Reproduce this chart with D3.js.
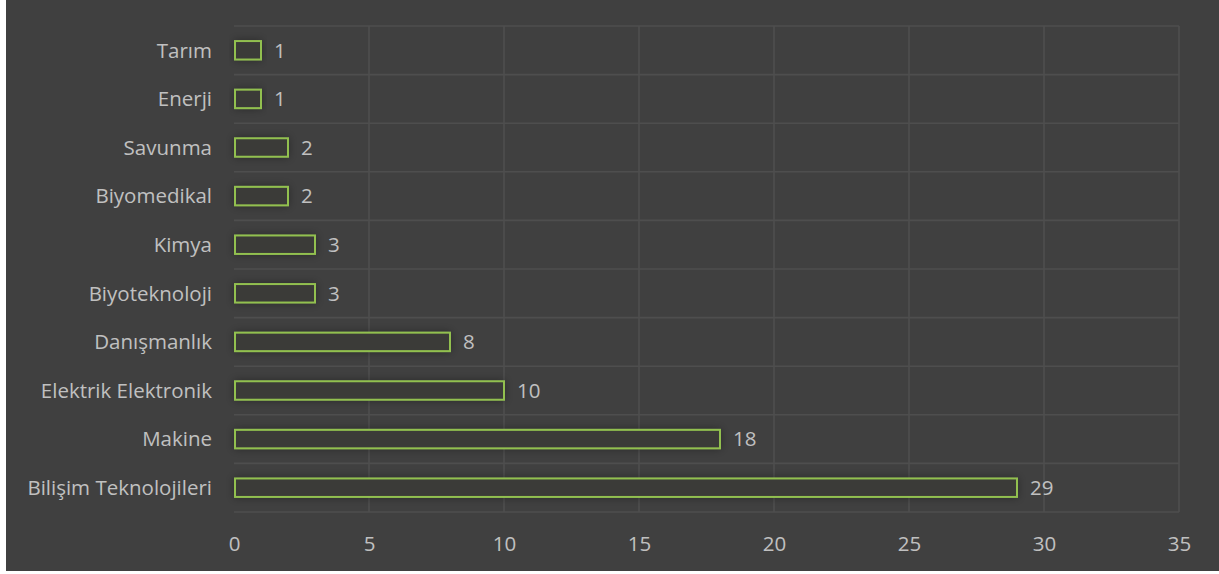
<!DOCTYPE html>
<html><head><meta charset="utf-8">
<script src="https://cdn.jsdelivr.net/npm/d3@7"></script>
<style>body{margin:0;background:#fff}svg{display:block}</style>
</head><body>
<script>
const categories = ["Tarım","Enerji","Savunma","Biyomedikal","Kimya","Biyoteknoloji","Danışmanlık","Elektrik Elektronik","Makine","Bilişim Teknolojileri"];
const values = [1,1,2,2,3,3,8,10,18,29];
const xTicks = [0,5,10,15,20,25,30,35];

const W=1219,H=574;
const svg=d3.select("body").append("svg").attr("width",W).attr("height",H);
const defs=svg.append("defs");
const f=defs.append("filter").attr("id","sh").attr("x","-20%").attr("y","-80%").attr("width","140%").attr("height","260%");
f.append("feDropShadow").attr("dx",0).attr("dy",0).attr("stdDeviation",4).attr("flood-color","#000").attr("flood-opacity",0.35);

svg.append("rect").attr("x",6).attr("y",0).attr("width",W-6).attr("height",571).attr("fill","#404040");

const x=d3.scaleLinear().domain([0,35]).range([234,1179]);
const y=d3.scaleBand().domain(categories).range([26,512]).paddingInner(0.62).paddingOuter(0.31);
const yb=d3.scaleBand().domain(categories).range([26,512]);

const grid="#4e4e4e";
const g=svg.append("g");
g.selectAll("line.v").data(xTicks.slice(1)).join("line")
 .attr("x1",d=>x(d)).attr("x2",d=>x(d)).attr("y1",26).attr("y2",512).attr("stroke",grid).attr("stroke-width",1.6);
const hb=categories.map(c=>yb(c)).concat([512]);
g.selectAll("line.h").data(hb).join("line")
 .attr("x1",x(0)).attr("x2",x(35)).attr("y1",d=>d).attr("y2",d=>d).attr("stroke",grid).attr("stroke-width",1.6);

const font="'Open Sans', sans-serif";
const fs=20.5;
svg.selectAll("rect.bar").data(values).join("rect")
 .attr("x",x(0)+1).attr("y",(d,i)=>y(categories[i]))
 .attr("width",d=>x(d)-x(0)-1).attr("height",y.bandwidth())
 .attr("fill","#3a3b37").attr("stroke","#92c050").attr("stroke-width",2)
 .attr("filter","url(#sh)");

svg.selectAll("text.val").data(values).join("text")
 .attr("x",d=>x(d)+13).attr("y",(d,i)=>y(categories[i])+y.bandwidth()/2)
 .attr("dy","0.36em").attr("fill","#c0c0c0").attr("font-family",font).attr("font-size",fs).text(d=>d);

const yAxis=svg.append("g").attr("transform",`translate(${x(0)-22},0)`)
 .call(d3.axisLeft(yb).tickSize(0).tickPadding(0));
yAxis.select(".domain").remove();
yAxis.selectAll("text").attr("fill","#c0c0c0").attr("font-family",font).attr("font-size",fs).attr("dy","0.36em");

const xAxis=svg.append("g").attr("transform",`translate(0,512)`)
 .call(d3.axisBottom(x).tickValues(xTicks).tickSize(0).tickPadding(24));
xAxis.select(".domain").remove();
xAxis.selectAll("text").attr("fill","#c0c0c0").attr("font-family",font).attr("font-size",fs);
</script>
</body></html>
